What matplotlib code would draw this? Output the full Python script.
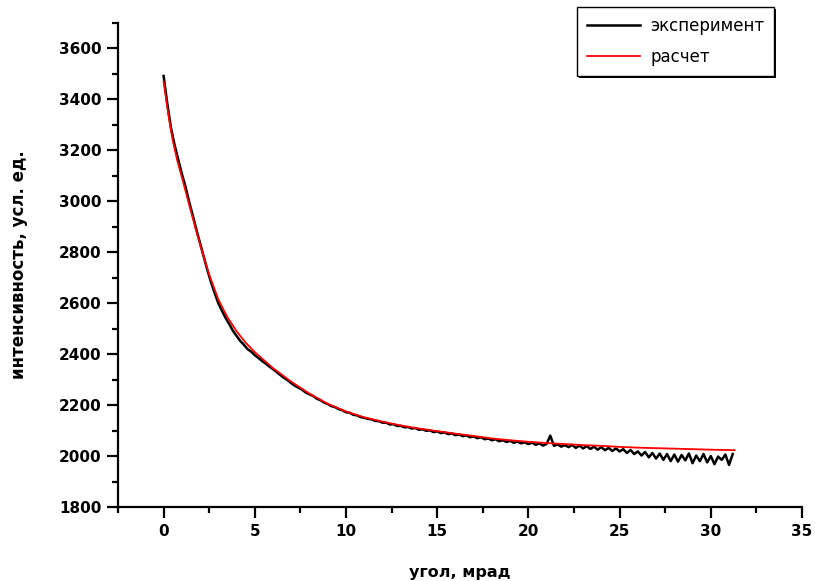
import matplotlib
matplotlib.use('Agg')
import matplotlib.pyplot as plt
from matplotlib.ticker import MultipleLocator
from matplotlib.patches import Rectangle
import numpy as np

# эксперимент: шаг 0.2 мрад, 0 ... 31.2
exp_step = 0.2
exp_y = [3492, 3385, 3290, 3222, 3165, 3108,
         3058, 2998, 2945, 2888, 2835,
         2782, 2730, 2682, 2640, 2600,
         2570, 2542, 2518, 2492, 2472,
         2452, 2437, 2420, 2410, 2396,
         2385, 2373, 2363, 2351, 2341,
         2330, 2318, 2307, 2298, 2286,
         2276, 2268, 2260, 2249, 2242,
         2236, 2225, 2219, 2210, 2204,
         2196, 2192, 2184, 2180, 2172,
         2170, 2162, 2160, 2153, 2150,
         2146, 2144, 2138, 2137, 2131,
         2131, 2124, 2125, 2118, 2119,
         2113, 2114, 2108, 2110, 2103,
         2105, 2099, 2101, 2094, 2097,
         2090, 2093, 2086, 2089, 2082,
         2085, 2078, 2081, 2074, 2077,
         2070, 2074, 2066, 2069, 2062,
         2066, 2058, 2062, 2055, 2060,
         2052, 2057, 2050, 2054, 2047,
         2053, 2044, 2050, 2041, 2048,
         2080, 2040, 2046, 2037, 2043,
         2035, 2044, 2032, 2041, 2030,
         2039, 2028, 2037, 2025, 2035,
         2023, 2032, 2020, 2030, 2018,
         2027, 2012, 2024, 2008, 2018,
         2002, 2016, 1995, 2012, 1990,
         2010, 1985, 2008, 1980, 2006,
         1978, 2004, 1983, 2010, 1972,
         2002, 1980, 2008, 1975, 2000,
         1968, 1998, 1985, 2006, 1965,
         2008]
exp_x = np.arange(len(exp_y)) * exp_step

# расчет
calc_x = [0, 0.25, 0.5, 0.75, 1.0, 1.5, 2.0, 2.5, 3.0, 3.5, 4.0, 4.5, 5.0,
          6, 7, 8, 9, 10, 11, 12, 13, 14, 15, 16, 17, 18, 19, 20, 21, 22,
          23, 24, 25, 26, 27, 28, 29, 30, 31.3]
calc_y = [3470, 3345, 3240, 3160, 3095, 2960, 2830, 2712, 2615, 2545, 2490,
          2445, 2408, 2345, 2292, 2245, 2205, 2175, 2152, 2135, 2120, 2108,
          2098, 2088, 2079, 2069, 2062, 2056, 2051, 2047, 2043, 2040, 2036,
          2033, 2031, 2029, 2027, 2025, 2023]

fig = plt.figure(figsize=(8.15, 5.81), dpi=100)
ax = fig.add_axes([118/815, 1 - 507/581, (802 - 118)/815, (507 - 23)/581])
ax.patch.set_visible(False)

ax.plot(exp_x, exp_y, color='black', lw=1.8, label='эксперимент')
ax.plot(calc_x, calc_y, color='red', lw=1.3, label='расчет')

ax.set_xlim(-2.5, 35)
ax.set_ylim(1800, 3700)
ax.xaxis.set_major_locator(MultipleLocator(5))
ax.xaxis.set_minor_locator(MultipleLocator(2.5))
ax.yaxis.set_major_locator(MultipleLocator(200))
ax.yaxis.set_minor_locator(MultipleLocator(100))

for s in ['top', 'right']:
    ax.spines[s].set_visible(False)
for s in ['left', 'bottom']:
    ax.spines[s].set_linewidth(1.6)

ax.tick_params(which='major', direction='out', length=8, width=1.6, pad=4)
ax.tick_params(which='minor', direction='out', length=4.5, width=1.6)
for lab in ax.get_xticklabels() + ax.get_yticklabels():
    lab.set_fontweight('bold')
    lab.set_fontsize(11)

ax.set_xlabel('угол, мрад', fontsize=11.5, fontweight='bold', labelpad=19)
ax.set_ylabel('интенсивность, усл. ед.', fontsize=12, fontweight='bold', labelpad=22)

leg = ax.legend(loc='upper left', bbox_to_anchor=(577/815, 1 - 7/581),
                bbox_transform=fig.transFigure, borderaxespad=0,
                fancybox=False, edgecolor='black', framealpha=1,
                fontsize=12, handlelength=3.2, labelspacing=0.75,
                borderpad=0.6, handletextpad=0.6)
leg.get_frame().set_linewidth(1.0)

# тень рамки легенды (2 px вправо и вниз)
fig.canvas.draw()
bb = leg.get_frame().get_window_extent()
fig.patches.append(Rectangle((bb.x0 + 2, bb.y0 - 2), bb.width, bb.height,
                             transform=None, facecolor='black',
                             edgecolor='none', zorder=-1))

fig.savefig('out.png', dpi=100)
